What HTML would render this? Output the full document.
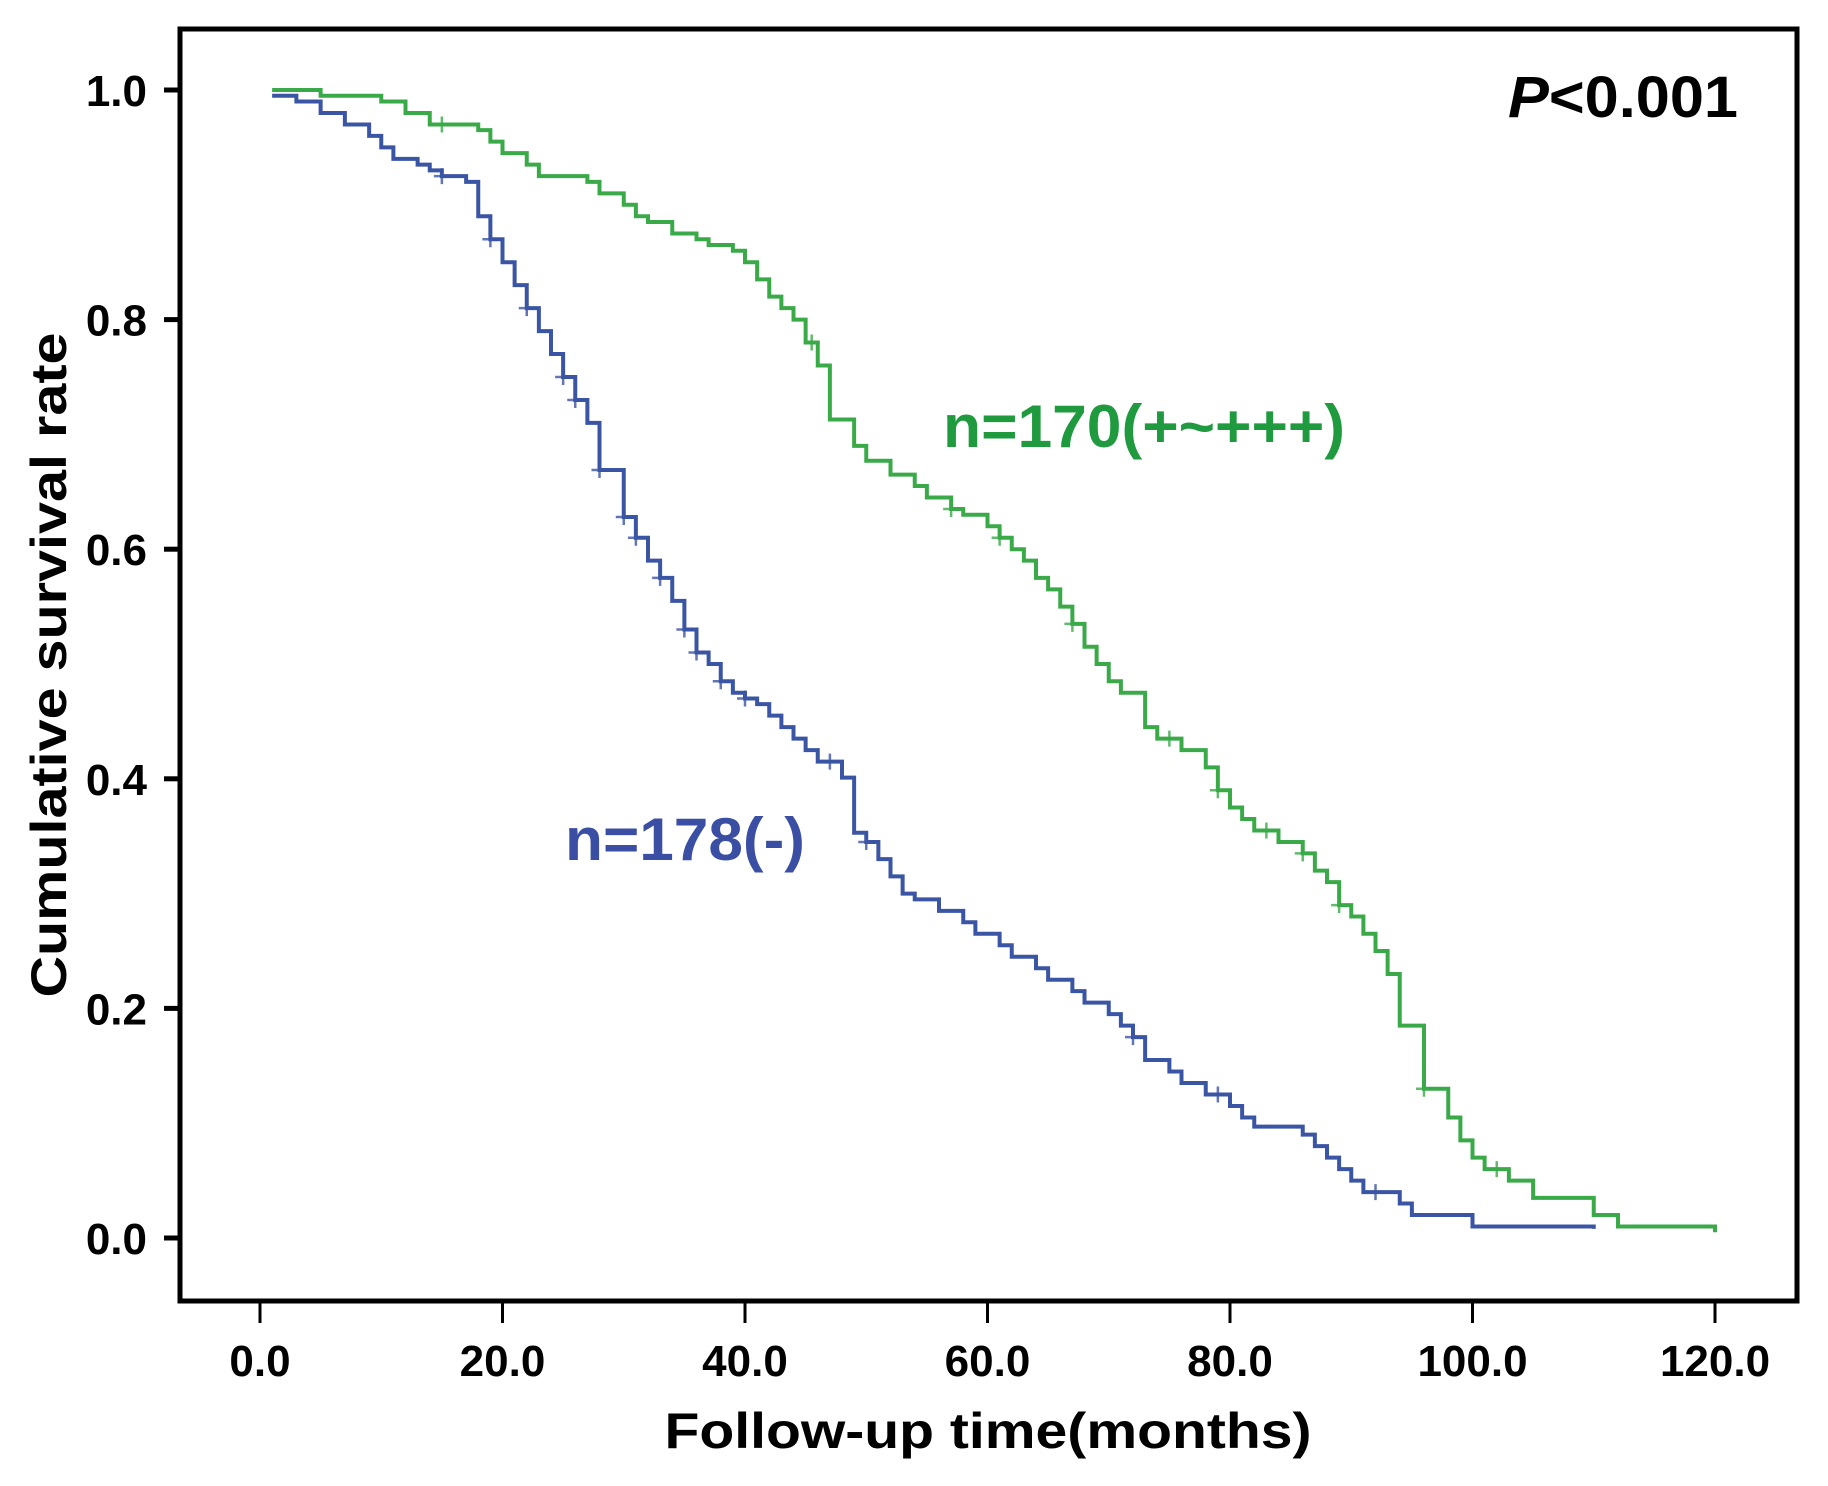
<!DOCTYPE html>
<html><head><meta charset="utf-8"><style>
html,body{margin:0;padding:0;background:#fff;}
svg{display:block;}
text{font-family:"Liberation Sans",sans-serif;}
</style></head><body>
<svg id="chart" width="1828" height="1486" viewBox="0 0 1828 1486">
<rect x="180" y="29" width="1617" height="1272" fill="#fff" stroke="#000" stroke-width="5"/>
<g id="yaxis"></g>
<g id="xaxis"></g>
<g id="series"></g>
<text x="1738" y="117" font-size="58" font-weight="bold" text-anchor="end" fill="#000" textLength="230" lengthAdjust="spacingAndGlyphs"><tspan font-style="italic">P</tspan>&lt;0.001</text>
<text x="943" y="447" font-size="60" font-weight="bold" fill="#1f9a3e" textLength="402" lengthAdjust="spacingAndGlyphs">n=170(+~+++)</text>
<text x="565" y="860" font-size="60" font-weight="bold" fill="#3a4fa3" textLength="240" lengthAdjust="spacingAndGlyphs">n=178(-)</text>
<text x="988" y="1448" font-size="50" font-weight="bold" text-anchor="middle" fill="#000" textLength="647" lengthAdjust="spacingAndGlyphs">Follow-up time(months)</text>
<text transform="translate(66,665) rotate(-90)" font-size="50" font-weight="bold" text-anchor="middle" fill="#000" textLength="665" lengthAdjust="spacingAndGlyphs">Cumulative survival rate</text>
</svg>
<script>
const xTicks = [0, 20, 40, 60, 80, 100, 120];
const yTicks = [0, 0.2, 0.4, 0.6, 0.8, 1.0];
const greenTimes = [1,5,10,12,14,18,19,20,22,23,27,28,30,31,32,34,36,37,39,40,41,42,43,44,45,46,47,49,50,52,54,55,57,58,60,61,62,63,64,65,66,67,68,69,70,71,73,74,76,78,79,80,81,82,84,86,87,88,89,90,91,92,93,94,96,98,99,100,101,103,105,110,112,120];
const greenSurv = [1.0,0.995,0.99,0.98,0.97,0.965,0.955,0.945,0.935,0.925,0.92,0.91,0.90,0.89,0.885,0.875,0.87,0.865,0.86,0.85,0.835,0.82,0.81,0.80,0.78,0.76,0.713,0.69,0.677,0.665,0.655,0.645,0.635,0.63,0.62,0.61,0.60,0.59,0.575,0.565,0.55,0.535,0.515,0.50,0.485,0.475,0.445,0.435,0.425,0.41,0.39,0.375,0.365,0.355,0.345,0.335,0.32,0.31,0.29,0.28,0.265,0.25,0.23,0.185,0.13,0.105,0.085,0.07,0.06,0.05,0.035,0.02,0.01,0.005];
const blueTimes = [1,3,5,7,9,10,11,13,14,15,17,18,19,20,21,22,23,24,25,26,27,28,30,31,32,33,34,35,36,37,38,39,40,41,42,43,44,45,46,48,49,50,51,52,53,54,56,58,59,61,62,64,65,67,68,70,71,72,73,75,76,78,80,81,82,86,87,88,89,90,91,94,95,100,110];
const blueSurv = [0.995,0.99,0.98,0.97,0.96,0.95,0.94,0.935,0.93,0.925,0.92,0.89,0.87,0.85,0.83,0.81,0.79,0.77,0.75,0.73,0.71,0.669,0.628,0.61,0.59,0.575,0.555,0.53,0.51,0.50,0.485,0.475,0.47,0.465,0.455,0.445,0.435,0.425,0.415,0.401,0.353,0.345,0.33,0.315,0.30,0.295,0.285,0.275,0.265,0.255,0.245,0.235,0.225,0.215,0.205,0.195,0.185,0.175,0.155,0.145,0.135,0.125,0.115,0.105,0.097,0.09,0.08,0.07,0.06,0.05,0.04,0.03,0.02,0.01,0.008];
const greenCensor = [15,45.5,57,61,67,75,79,83,86,89,96,102];
const blueCensor = [15,19,22,25,26,28,30,31,33,35,36,38,40,47,50,72,79,92];

const NS = "http://www.w3.org/2000/svg";
const X = t => 260 + t * (1715 - 260) / 120;
const Y = s => 1238 - s * (1238 - 90);

const yAxis = document.getElementById('yaxis');
yTicks.forEach(v => {
  const l = document.createElementNS(NS, 'line');
  l.setAttribute('x1', 164); l.setAttribute('x2', 180);
  l.setAttribute('y1', Y(v)); l.setAttribute('y2', Y(v));
  l.setAttribute('stroke', '#000'); l.setAttribute('stroke-width', 5);
  
  
  yAxis.appendChild(l);
  const t = document.createElementNS(NS, 'text');
  t.setAttribute('x', 147); t.setAttribute('y', Y(v) + 16);
  t.setAttribute('font-size', 44); t.setAttribute('font-weight', 'bold'); t.setAttribute('text-anchor', 'end');
  t.textContent = v.toFixed(1);
  
  
  yAxis.appendChild(t);
});
const xAxis = document.getElementById('xaxis');
xTicks.forEach(v => {
  const l = document.createElementNS(NS, 'line');
  l.setAttribute('x1', X(v)); l.setAttribute('x2', X(v));
  l.setAttribute('y1', 1301); l.setAttribute('y2', 1323);
  l.setAttribute('stroke', '#000'); l.setAttribute('stroke-width', 3);
  
  
  xAxis.appendChild(l);
  const t = document.createElementNS(NS, 'text');
  t.setAttribute('x', X(v)); t.setAttribute('y', 1376);
  t.setAttribute('font-size', 44); t.setAttribute('font-weight', 'bold'); t.setAttribute('text-anchor', 'middle');
  t.textContent = v.toFixed(1);
  
  
  xAxis.appendChild(t);
});

function survAt(times, surv, t) {
  let s = surv[0];
  for (let i = 0; i < times.length; i++) { if (times[i] <= t) s = surv[i]; }
  return s;
}
function drawCurve(times, surv, censor, color, name) {
  const g = document.getElementById('series');
  let d = 'M' + X(times[0]) + ' ' + Y(surv[0]);
  for (let i = 1; i < times.length; i++) {
    d += ' H' + X(times[i]) + ' V' + Y(surv[i]);
  }
  const p = document.createElementNS(NS, 'path');
  p.setAttribute('d', d);
  p.setAttribute('fill', 'none'); p.setAttribute('stroke', color); p.setAttribute('stroke-width', 4);
  
  
  g.appendChild(p);
  censor.forEach(c => {
    const cx = X(c), cy = Y(survAt(times, surv, c));
    const m = document.createElementNS(NS, 'path');
    m.setAttribute('d', `M${cx-8} ${cy} H${cx+8} M${cx} ${cy-8} V${cy+8}`);
    m.setAttribute('stroke', color); m.setAttribute('stroke-width', 2.5); m.setAttribute('opacity', 0.8);
    
    
    g.appendChild(m);
  });
}
drawCurve(greenTimes, greenSurv, greenCensor, '#3aaa48', 'green-survival-curve');
drawCurve(blueTimes, blueSurv, blueCensor, '#3b55a5', 'blue-survival-curve');
</script>
</body></html>
